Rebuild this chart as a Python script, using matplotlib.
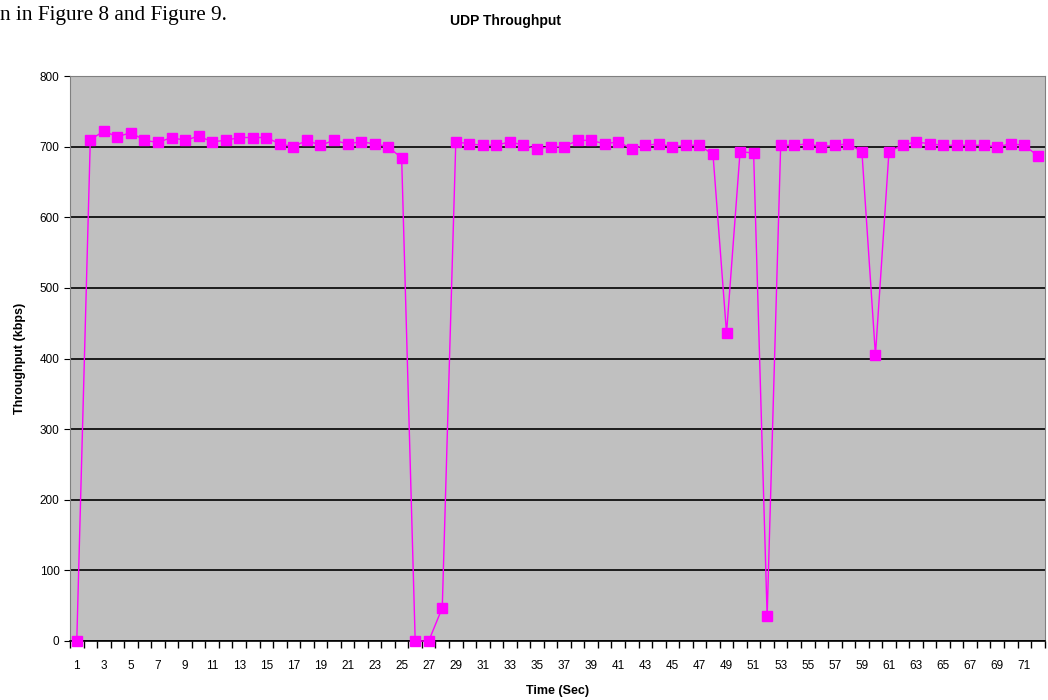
import numpy as np
import matplotlib
matplotlib.use('Agg')
import matplotlib.pyplot as plt
from matplotlib.ticker import FixedLocator

plt.rcParams['font.family'] = ['Liberation Sans', 'DejaVu Sans']

# time in seconds (category axis) and throughput in kbps
seconds = list(range(1, 73))
throughput = [0, 710, 722, 714, 720, 709, 706, 713, 709, 715,
              707, 709, 713, 713, 713, 704, 700, 709, 702, 709,
              704, 707, 704, 700, 684, 0, 0, 47, 707, 704,
              702, 702, 707, 702, 697, 700, 700, 709, 709, 704,
              707, 697, 702, 704, 700, 702, 702, 689, 436, 693,
              691, 35, 702, 702, 704, 700, 702, 704, 693, 405,
              693, 702, 707, 704, 702, 702, 702, 702, 700, 704,
              702, 687]
x_labels = [str(s) for s in seconds[::2]]

fig = plt.figure(figsize=(10.48, 7), dpi=100)
ax = fig.add_axes([0.0668, 0.0843, 0.930, 0.807], facecolor='#c0c0c0')

ax.plot(seconds, throughput, color='#ff00ff', lw=1, marker='s', ms=6.5,
        mec='#ff00ff', mfc='#ff00ff', zorder=3, clip_on=False)

ax.set_xlim(0.5, 72.5)
ax.set_ylim(0, 800)
ax.set_yticks(np.arange(0, 801, 100))
ax.grid(axis='y', color='black', lw=1.2)
ax.set_axisbelow(True)

ax.set_xticks(seconds[::2])
ax.set_xticklabels(x_labels, fontsize=8.5)
ax.xaxis.set_minor_locator(FixedLocator(np.arange(0.5, 73, 1)))
ax.tick_params(axis='x', which='major', length=0, pad=14)
ax.tick_params(axis='x', which='minor', length=5, width=1, direction='out')
ax.tick_params(axis='y', length=4, labelsize=8.5)

for side in ['left', 'right', 'top']:
    ax.spines[side].set_color('#808080')
ax.spines['bottom'].set_color('black')
ax.spines['bottom'].set_linewidth(1.2)

ax.set_xlabel('Time (Sec)', fontsize=9, fontweight='bold', labelpad=9)
ax.set_ylabel('Throughput (kbps)', fontsize=9, fontweight='bold', labelpad=10)
fig.text(0.482, 0.965, 'UDP Throughput', fontsize=10, fontweight='bold', ha='center')
fig.text(0.0, 0.978, 'n in Figure 8 and Figure 9.', fontsize=15.3,
         family='Liberation Serif', va='center')

fig.savefig('out.png', dpi=100)
